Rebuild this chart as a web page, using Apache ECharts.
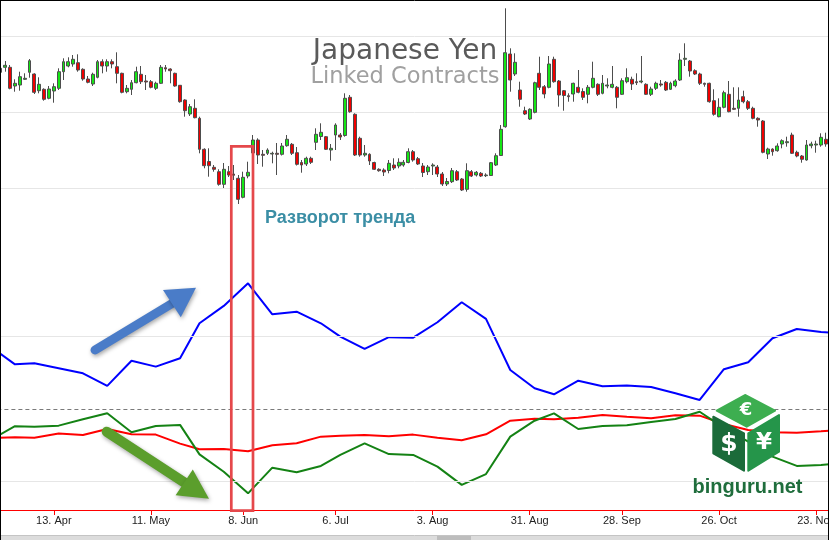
<!DOCTYPE html>
<html><head><meta charset="utf-8">
<script src="https://cdn.jsdelivr.net/npm/echarts@6/dist/echarts.min.js"></script>
<style>html,body{margin:0;padding:0;background:#fff;}#c{width:829px;height:540px;}</style>
</head><body><div id="c"></div>
<script>
// Trading days (2015), month-day
const tradingDays = [
 '03-23','03-24','03-25','03-26','03-27','03-30','03-31',
 '04-01','04-02','04-06','04-07','04-08','04-09','04-10','04-13','04-14','04-15','04-16','04-17','04-20','04-21','04-22','04-23','04-24','04-27','04-28','04-29','04-30',
 '05-01','05-04','05-05','05-06','05-07','05-08','05-11','05-12','05-13','05-14','05-15','05-18','05-19','05-20','05-21','05-22','05-26','05-27','05-28','05-29',
 '06-01','06-02','06-03','06-04','06-05','06-08','06-09','06-10','06-11','06-12','06-15','06-16','06-17','06-18','06-19','06-22','06-23','06-24','06-25','06-26','06-29','06-30',
 '07-01','07-02','07-06','07-07','07-08','07-09','07-10','07-13','07-14','07-15','07-16','07-17','07-20','07-21','07-22','07-23','07-24','07-27','07-28','07-29','07-30','07-31',
 '08-03','08-04','08-05','08-06','08-07','08-10','08-11','08-12','08-13','08-14','08-17','08-18','08-19','08-20','08-21','08-24','08-25','08-26','08-27','08-28','08-31',
 '09-01','09-02','09-03','09-04','09-08','09-09','09-10','09-11','09-14','09-15','09-16','09-17','09-18','09-21','09-22','09-23','09-24','09-25','09-28','09-29','09-30',
 '10-01','10-02','10-05','10-06','10-07','10-08','10-09','10-12','10-13','10-14','10-15','10-16','10-19','10-20','10-21','10-22','10-23','10-26','10-27','10-28','10-29','10-30',
 '11-02','11-03','11-04','11-05','11-06','11-09','11-10','11-11','11-12','11-13','11-16','11-17','11-18','11-19','11-20','11-23','11-24','11-25','11-27','11-30','12-01'
];
const labelDays = ['04-13','05-11','06-08','07-06','08-03','08-31','09-28','10-26','11-23'];
const monthNames = {'03':'Mar','04':'Apr','05':'May','06':'Jun','07':'Jul','08':'Aug','09':'Sep','10':'Oct','11':'Nov','12':'Dec'};

// Daily candles (price index)
const opens = [
 193,196,192,191.7,196.7,196.7,178,179,184.7,191.7,
 190,173.3,174.7,165.7,173,175.7,192.3,198,200,201.3,
 194.7,185,180,186.7,202.3,198,202.3,197.3,190.7,172.3,
 174.7,181.3,189.7,183,182.3,175.7,180.7,196.3,195,190.7,
 178.7,164,150,155.7,145.7,114.7,102.5,96.7,92.3,79.7,
 92.3,90,85.7,66.7,88,111,124,109.7,110.7,110,
 110.7,109.7,118.3,119.7,111.3,101.5,100,105.7,121.7,127.5,
 127.3,114,129,129,128.5,166.7,149.7,125.7,109,109.7,
 101.5,94.7,94,93.5,99,98,99,101.5,112.3,105.3,
 98,92.3,98,97,90,80,82.3,92.3,85,74.7,
 92.3,89,90.7,88.3,88.5,99,108.5,137.3,210,190,
 174,153.3,145,151.7,190.7,177.3,176.7,204.7,183,173.3,
 168.3,170,176.7,172.5,169.7,176.7,179.7,170.7,178,176.7,
 176.7,169.7,182.3,184.7,182.3,182,179.7,169.7,175.7,180,
 181.7,174.7,178.3,184,204.7,203,193.3,190,180.7,180.7,
 163.3,147.3,156.7,169.7,155.7,155.7,167.3,162.3,155.7,145.7,
 143,110,115,113.3,120,121.3,129,111.7,108,104,
 118.3,119,119,124.7,120
];
const closes = [
 196,192,194,195.7,198.7,175.7,180.7,187.3,185.7,203.3,
 171.7,179.7,164.7,175,177.3,192.3,202.3,202.3,204.7,194,
 185,181.7,189.7,202.3,198,202.3,200,190.7,171.7,175.7,
 181.3,192.3,182.3,182,176.7,180.7,196.7,195,193.3,178,
 162.3,153.3,157.3,146.3,114.7,98.3,98.3,94.7,79.7,94.7,
 89,88.7,64.7,86.7,91.7,124,109,108.7,114,110.7,
 109.7,118,124.7,110.7,99.7,99,105.7,101.7,129.7,131.7,
 114.7,115.7,139,127,165.7,152.3,109,109,110.7,103,
 94.7,93.3,92,100.7,96,101.7,101.7,112.3,104,100,
 91.5,97,99,90,80,82.5,93.3,84,74,93.3,
 88,91.7,88,89,101.3,108.3,134.7,211.3,184,201.7,
 164.7,150,154.7,181.3,176.7,170,200,182.3,169,168.5,
 167.3,180.7,171.7,166.7,176.7,185.7,169.7,180.7,179,179.7,
 166.7,183.3,186.3,180,181.3,183,169.7,175,180.7,179,
 174,180.7,183,204,205.7,193,190,180.7,179.7,162.3,
 149.7,156.7,171.3,152.3,154.7,164,162.3,155.7,145.7,144,
 111.7,115,112.3,118,123.3,122.3,110.7,108,104.7,119,
 120,120,126.7,120,121
];
const lows = [
 188,189,188,190.7,192.3,174.7,172.3,173.3,184,186.3,
 170,170.7,163.3,164.7,161.3,174,184,196.7,197.3,192.3,
 183.3,180.7,178,185.7,190.7,192.3,195.7,180.7,170.7,170.7,
 169,180.7,180,174,175.7,174,180,192.3,180.7,177.3,
 161.3,147.3,148,145.7,110.7,95.7,87.3,92.3,78.3,76,
 87,84,60,65.7,85.7,91,100,97.3,109,100.7,
 89,108.5,117.3,109,98.5,91.3,98,100,114,124,
 114,103.3,114,124,127.3,151.3,108,107.3,107.3,99,
 94,92.3,88,90.7,94,95.7,97.3,100.7,102.3,99,
 87,89,89,87,78,78,81,83,73,72.3,
 87,87.5,87,87,88,98,108,136.3,172.3,188,
 157.3,149,144,150.7,174,165.7,175.7,181.3,157.3,153.3,
 162.3,162.3,170.7,164,160.7,175.7,168,169.7,175.7,175.7,
 155.7,169,180.7,174,179,180.7,169,168,174,177.3,
 173,174,176.7,183,198,187.3,189,179,177.3,161.3,
 148.3,146.7,155.7,151.7,154,147.3,160.7,154,144.7,137.3,
 110.7,105,108.3,112.3,115.7,117.3,110,106.7,101.3,103.3,
 115.7,111.3,117.3,117.3,118
];
const highs = [
 200,199,204,215.7,203,199,184.7,192.3,190.7,205,
 190.7,186.7,175.7,178,180.7,195.7,205.7,206.7,209,209.7,
 195.7,188,191.3,204,204.7,204.7,204.7,211.7,191.3,179,
 184,197.3,198,189,184,182.3,199,199,195.7,191.3,
 179,164.7,160,164.7,147.3,115.7,115.7,99,94.7,101,
 98,99,89,92.3,102.3,129,125.7,114,115.7,112.3,
 121,121,129,121,117,104,107.3,107.3,135.7,140.7,
 128,120,140.7,131,170.7,169,150.7,127.3,119,110.7,
 102.3,95.7,95.7,104,105.7,105.7,104,115.7,114,107,
 101,99,100.7,99,92,86,96,94,86,100.7,
 94,93,92,90.7,102,110.7,139,255.7,215.7,210.7,
 182.3,157.3,155.7,182.3,207.3,179,208,207.3,184,174,
 170.7,181.3,194,175.7,179,202.3,180.7,189,185.7,198,
 178,185.7,195.7,187.3,190.7,208,180.7,177.3,182.3,184,
 183,182.3,184.7,210.7,220.7,204,194.7,191.3,181.3,181.3,
 174.7,165.7,173.3,183,176.7,176.7,173.3,164,157.3,146.7,
 144,116.3,115.7,120.7,124.7,127.3,131.3,113.3,109,124,
 122.3,123.3,130.7,131.3,124
];

// Weekly linked-contract lines (Tuesdays)
const weekDays = ['03-24','03-31','04-07','04-14','04-21','04-28','05-05','05-12','05-19','05-26','06-02','06-09','06-16','06-23','06-30','07-07','07-14','07-21','07-28','08-04','08-11','08-18','08-25','09-01','09-08','09-15','09-22','09-29','10-06','10-13','10-20','10-27','11-03','11-10','11-17','11-24','12-01'];
const blueVals = [42.8,30.8,31.5,28.1,24.6,15.9,33.3,29.2,35.0,59.1,71.1,86.7,65.3,67.1,59.1,49.9,41.4,49.5,49.2,59.8,73.6,62.1,26.9,14.3,10.1,19.5,15.7,16.1,15.2,10.8,6.2,27.4,32.2,48.8,55.2,53.1,52.1];
const redVals = [-20.0,-19.5,-19.8,-17.0,-17.9,-13.8,-17.5,-17.7,-23.9,-27.8,-27.6,-29.2,-25.0,-23.7,-19.1,-18.4,-17.9,-18.8,-17.7,-19.8,-21.6,-17.5,-8.1,-6.7,-7.1,-6.0,-4.1,-5.3,-6.4,-4.3,-4.6,-10.4,-14.5,-16.1,-16.4,-15.4,-14.4];
const greenVals = [-21.4,-11.9,-12.2,-11.5,-7.1,-3.0,-16.1,-11.7,-11.0,-31.3,-43.3,-58.2,-40.5,-43.7,-39.3,-31.7,-23.7,-31.1,-31.7,-39.8,-52.4,-44.9,-19.1,-8.1,-3.0,-13.8,-11.7,-11.2,-9.0,-6.9,-1.9,-13.1,-22.6,-32.9,-39.3,-38.6,-37.5];

const candleData = opens.map((o, i) => [o, closes[i], lows[i], highs[i]]);
const pairs = vals => weekDays.map((d, i) => [d, vals[i]]);
const isLabelDay = (idx, val) => labelDays.indexOf(val) >= 0;
const fmtDay = v => { const p = v.split('-'); return parseInt(p[1], 10) + '. ' + monthNames[p[0]]; };

const GL = -16.6, GW = tradingDays.length * 4.856;
const chart = echarts.init(document.getElementById('c'), null, {renderer: 'canvas'});

const arrowShadow = {shadowBlur: 4, shadowColor: 'rgba(0,0,0,0.35)', shadowOffsetX: 1, shadowOffsetY: 2};

chart.setOption({
  animation: false,
  backgroundColor: '#ffffff',
  grid: [
    {left: GL, top: 0, width: GW, height: 264, containLabel: false, outerBoundsMode: 'none'},
    {left: GL, top: 264, width: GW, height: 246, containLabel: false, outerBoundsMode: 'none'}
  ],
  xAxis: [
    {type: 'category', gridIndex: 0, data: tradingDays, boundaryGap: true, show: false},
    {type: 'category', gridIndex: 1, data: tradingDays, boundaryGap: true,
     axisLine: {show: true, onZero: false, lineStyle: {color: '#ff0000', width: 1}},
     axisTick: {show: true, alignWithLabel: true, length: 5, interval: isLabelDay, lineStyle: {color: '#ff0000'}},
     axisLabel: {interval: isLabelDay, formatter: fmtDay, color: '#222222', fontSize: 11, fontFamily: 'Liberation Sans', margin: 5, hideOverlap: false},
     splitLine: {show: false}}
  ],
  yAxis: [
    {type: 'value', gridIndex: 0, min: 0, max: 264, interval: 76,
     axisLine: {show: false}, axisTick: {show: false}, axisLabel: {show: false},
     splitLine: {show: true, showMinLine: false, showMaxLine: false, lineStyle: {color: '#e6e6e6', width: 1}}},
    {type: 'value', gridIndex: 1, min: -69.7, max: 100,
     axisLine: {show: false}, axisTick: {show: false}, axisLabel: {show: false}, splitLine: {show: false}}
  ],
  series: [
    {type: 'candlestick', xAxisIndex: 0, yAxisIndex: 0, data: candleData, barWidth: 3.4,
     itemStyle: {color: '#14e614', color0: '#f00000', borderColor: '#4d4d4d', borderColor0: '#4d4d4d', borderColorDoji: '#4d4d4d', borderWidth: 1}},
    {type: 'line', xAxisIndex: 1, yAxisIndex: 1, data: [], z: 1, silent: true,
     markLine: {silent: true, symbol: ['none', 'none'], label: {show: false}, animation: false,
       data: [
         {yAxis: 50, lineStyle: {color: '#e6e6e6', width: 1, type: 'solid'}},
         {yAxis: -50, lineStyle: {color: '#e6e6e6', width: 1, type: 'solid'}},
         {yAxis: 0, lineStyle: {color: '#7a7a7a', width: 1, type: [4, 3]}}
       ]}},
    {type: 'line', xAxisIndex: 1, yAxisIndex: 1, data: pairs(blueVals), symbol: 'none', z: 3,
     lineStyle: {color: '#0000ff', width: 2}},
    {type: 'line', xAxisIndex: 1, yAxisIndex: 1, data: pairs(redVals), symbol: 'none', z: 3,
     lineStyle: {color: '#ff0000', width: 2}},
    {type: 'line', xAxisIndex: 1, yAxisIndex: 1, data: pairs(greenVals), symbol: 'none', z: 3,
     lineStyle: {color: '#148214', width: 2}}
  ],
  graphic: [
    {type: 'text', x: 405, y: 51.6, z: 50, style: {text: 'Japanese Yen', fontSize: 28, fontFamily: 'DejaVu Sans', fill: '#5a5a5a', align: 'center', verticalAlign: 'middle', textAlign: 'center', textVerticalAlign: 'middle'}},
    {type: 'text', x: 405, y: 77.3, z: 50, style: {text: 'Linked Contracts', fontSize: 22.5, fontFamily: 'DejaVu Sans', fill: '#a0a0a0', align: 'center', verticalAlign: 'middle', textAlign: 'center', textVerticalAlign: 'middle'}},
    {type: 'text', x: 265, y: 217.9, z: 50, style: {text: 'Разворот тренда', fontSize: 18, fontWeight: 'bold', fontFamily: 'Liberation Sans', fill: '#3b8ea5', align: 'left', verticalAlign: 'middle', textAlign: 'left', textVerticalAlign: 'middle'}},
    // blue arrow
    {type: 'polyline', z: 60, shape: {points: [[95, 350], [172, 303.5]]}, style: Object.assign({stroke: '#4a7cc8', lineWidth: 9, lineCap: 'round', fill: null}, arrowShadow)},
    {type: 'polygon', z: 61, shape: {points: [[196, 287.8], [163, 290], [180.8, 317.2]]}, style: Object.assign({fill: '#4a7cc8'}, arrowShadow)},
    // green arrow
    {type: 'polyline', z: 60, shape: {points: [[106.7, 431.7], [184, 482.3]]}, style: Object.assign({stroke: '#5b9e2c', lineWidth: 10, lineCap: 'round', fill: null}, arrowShadow)},
    {type: 'polygon', z: 61, shape: {points: [[209, 498.8], [192.8, 469.6], [175.6, 495.2]]}, style: Object.assign({fill: '#5b9e2c'}, arrowShadow)},
    // red frame
    {type: 'rect', z: 70, shape: {x: 231.3, y: 146.3, width: 21.7, height: 364.4}, style: {fill: null, stroke: '#e5484b', lineWidth: 2.7}},
    // logo cube
    {type: 'polygon', z: 80, shape: {points: [[716.7, 410.7], [745, 395], [775, 410.7], [746.7, 426.7]]}, style: {fill: '#3dae50', stroke: '#3dae50', lineWidth: 2, lineJoin: 'round'}},
    {type: 'polygon', z: 80, shape: {points: [[713.3, 416.7], [744, 433.3], [744, 470.7], [713.3, 453.3]]}, style: {fill: '#1b6b3a', stroke: '#1b6b3a', lineWidth: 2, lineJoin: 'round'}},
    {type: 'polygon', z: 80, shape: {points: [[748.3, 433.3], [779, 415], [779, 451.7], [748.3, 470.7]]}, style: {fill: '#25954a', stroke: '#25954a', lineWidth: 2, lineJoin: 'round'}},
    {type: 'text', x: 746, y: 410.5, z: 81, style: {text: '€', fontSize: 18, fontWeight: 'bold', fontFamily: 'DejaVu Sans', fill: '#ffffff', align: 'center', verticalAlign: 'middle', textAlign: 'center', textVerticalAlign: 'middle'}},
    {type: 'text', x: 729, y: 444, z: 81, style: {text: '$', fontSize: 25, fontWeight: 'bold', fontFamily: 'DejaVu Sans', fill: '#ffffff', align: 'center', verticalAlign: 'middle', textAlign: 'center', textVerticalAlign: 'middle'}},
    {type: 'text', x: 764, y: 443, z: 81, style: {text: '¥', fontSize: 23, fontWeight: 'bold', fontFamily: 'DejaVu Sans', fill: '#ffffff', align: 'center', verticalAlign: 'middle', textAlign: 'center', textVerticalAlign: 'middle'}},
    {type: 'text', x: 747.5, y: 487.5, z: 81, style: {text: 'binguru.net', fontSize: 20, fontWeight: 'bold', fontFamily: 'Liberation Sans', fill: '#1f6d3c', align: 'center', verticalAlign: 'middle', textAlign: 'center', textVerticalAlign: 'middle'}},
    // bottom scrollbar strip
    {type: 'rect', z: 90, shape: {x: 0, y: 535.5, width: 829, height: 5}, style: {fill: '#dcdcdc', stroke: '#c4c4c4', lineWidth: 1}},
    {type: 'rect', z: 91, shape: {x: 437, y: 536, width: 34, height: 4}, style: {fill: '#bdbdbd'}},
    // frame border
    {type: 'line', z: 95, shape: {x1: 0, y1: 0.5, x2: 829, y2: 0.5}, style: {stroke: '#000', lineWidth: 1}},
    {type: 'line', z: 95, shape: {x1: 0.5, y1: 0, x2: 0.5, y2: 540}, style: {stroke: '#000', lineWidth: 1}},
    {type: 'line', z: 95, shape: {x1: 828.5, y1: 0, x2: 828.5, y2: 540}, style: {stroke: '#000', lineWidth: 1}}
  ]
});
</script>
</body></html>
